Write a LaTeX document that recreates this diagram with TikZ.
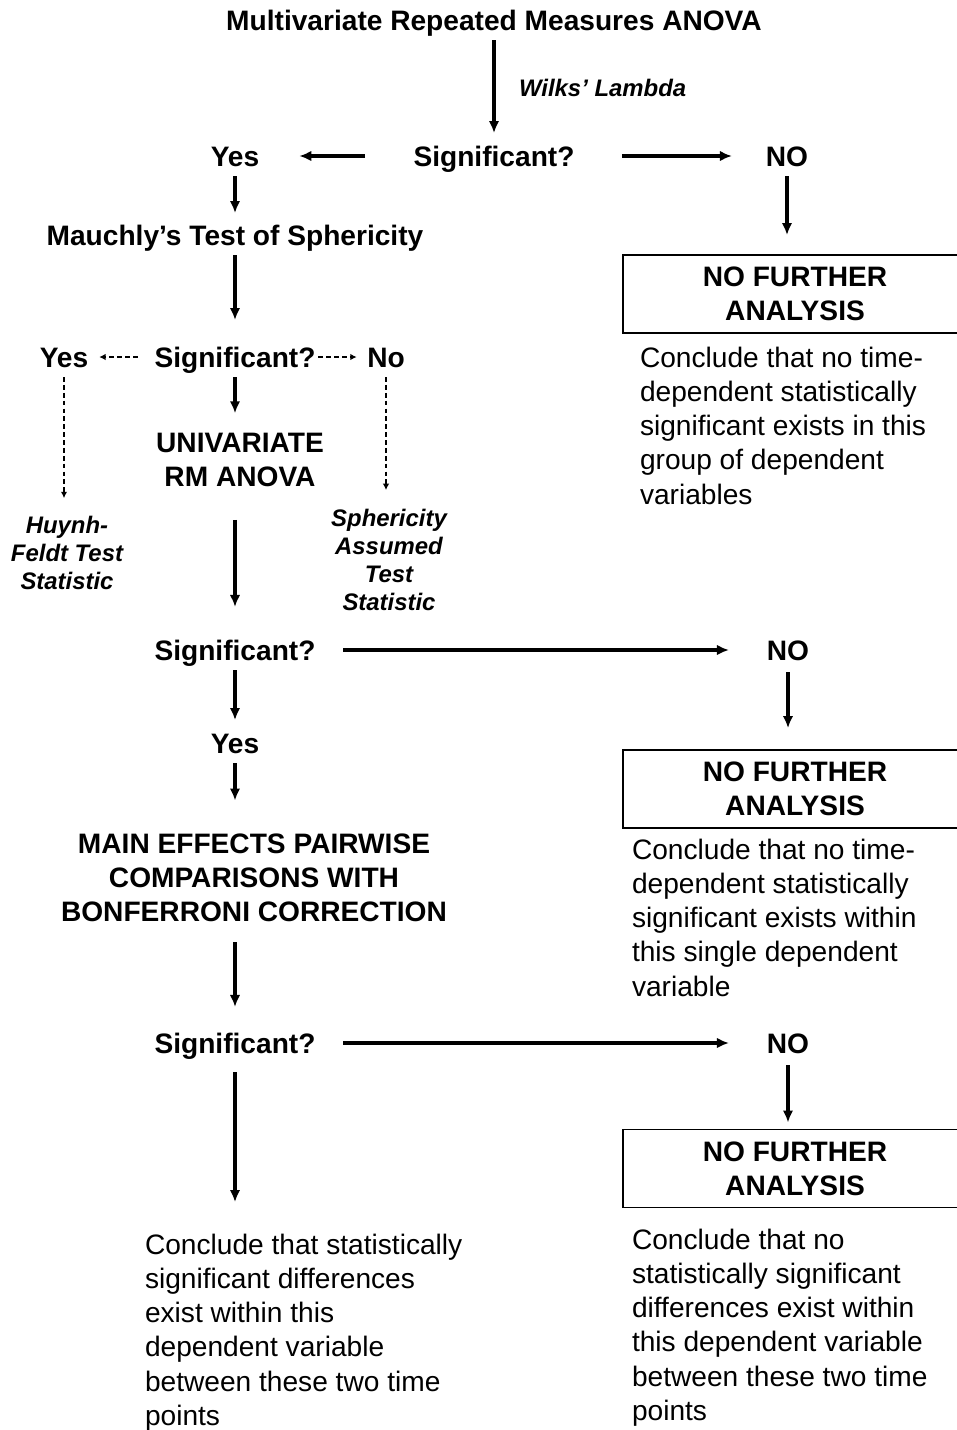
\documentclass[tikz,border=0pt]{standalone}
\usepackage{fontspec}
\setmainfont{Liberation Sans}
\usepackage{tikz}
\usetikzlibrary{arrows.meta}

\begin{document}
\begin{tikzpicture}[x=0.025cm,y=-0.025cm,
  every node/.style={inner sep=0pt,outer sep=0pt},
  txt/.style={font=\fontsize{20pt}{24.2pt}\selectfont\bfseries,text height=14.3pt,text depth=0pt},
  block/.style={font=\fontsize{20pt}{24.2pt}\selectfont\bfseries,align=center},
  stat/.style={font=\fontsize{17pt}{20pt}\selectfont\bfseries\itshape,align=center},
  stop/.style={block,draw,line width=0.8pt,minimum width=244.7pt,minimum height=55.5pt},
  note/.style={font=\fontsize{20pt}{24.2pt}\selectfont,align=left,anchor=north west},
  arr/.style={-{Latex[length=8.5pt,width=7.5pt]},line width=2.6pt},
  dsh/.style={-{Latex[length=4.5pt,width=4.6pt]},line width=1pt,dash pattern=on 3.4pt off 2.2pt}]

  \useasboundingbox (0,0) rectangle (956,1430);

  \node[txt] (title) at (494,20) {Multivariate Repeated Measures ANOVA};
  \node[txt] (sig1) at (494,156) {Significant?};
  \node[txt] (yes1) at (235,156) {Yes};
  \node[txt] (no1) at (787,156) {NO};
  \node[txt] (mauchly) at (235,235) {Mauchly's Test of Sphericity};
  \node[stop] (stop1) at (795,294) {NO FURTHER\\ANALYSIS};
  \node[note] (concl1) at (640,347.5) {Conclude that no time-\\dependent statistically\\significant exists in this\\group of dependent\\variables};

  \node[txt] (yes2) at (64,357) {Yes};
  \node[txt] (sig2) at (235,357) {Significant?};
  \node[txt] (no2) at (386,357) {No};
  \node[block] (univ) at (240,460) {UNIVARIATE\\RM ANOVA};
  \node[stat] (huynh) at (67,553) {Huynh-\\Feldt Test\\Statistic};
  \node[stat] (assumed) at (389,560) {Sphericity\\Assumed\\Test\\Statistic};

  \node[txt] (sig3) at (235,650) {Significant?};
  \node[txt] (no3) at (788,650) {NO};
  \node[txt] (yes3) at (235,743) {Yes};
  \node[stop] (stop2) at (795,789) {NO FURTHER\\ANALYSIS};
  \node[note] (concl2) at (632,839.5) {Conclude that no time-\\dependent statistically\\significant exists within\\this single dependent\\variable};
  \node[block] (main) at (254,877.5) {MAIN EFFECTS PAIRWISE\\COMPARISONS WITH\\BONFERRONI CORRECTION};

  \node[txt] (sig4) at (235,1043) {Significant?};
  \node[txt] (no4) at (788,1043) {NO};
  \node[stop] (stop3) at (795,1168.5) {NO FURTHER\\ANALYSIS};
  \node[note] (concl3) at (145,1234.5) {Conclude that statistically\\significant differences\\exist within this\\dependent variable\\between these two time\\points};
  \node[note] (concl4) at (632,1229.5) {Conclude that no\\statistically significant\\differences exist within\\this dependent variable\\between these two time\\points};

  % solid arrows
  \draw[arr,shorten <=7.1pt,shorten >=9.2pt] (title) -- node[stat,right=17.8pt] {Wilks' Lambda} (sig1);
  \draw[arr,shorten <=34.5pt,shorten >=28.5pt] (sig1) -- (yes1);
  \draw[arr,shorten <=33.8pt,shorten >=24.2pt] (sig1) -- (no1);
  \draw[arr,shorten <=7.1pt,shorten >=8.5pt] (yes1) -- (mauchly);
  \draw[arr,shorten <=7.1pt,shorten >=19.2pt] (mauchly) -- (sig2);
  \draw[arr,shorten <=7.1pt,shorten >=14.2pt] (no1) -- (no1 |- stop1.north);
  \draw[arr,shorten <=7.1pt,shorten >=14.2pt] (sig2) -- (sig2 |- univ.north);
  \draw[arr,shorten <=23.5pt,shorten >=23.5pt] (univ.south -| sig3) -- (sig3);
  \draw[arr,shorten <=19.9pt,shorten >=27pt] (sig3) -- (no3);
  \draw[arr,shorten <=7.1pt,shorten >=9.2pt] (sig3) -- (yes3);
  \draw[arr,shorten <=8.5pt,shorten >=15.6pt] (no3) -- (no3 |- stop2.north);
  \draw[arr,shorten <=7.1pt,shorten >=23.5pt] (yes3) -- (yes3 |- main.north);
  \draw[arr,shorten <=14.9pt,shorten >=18.5pt] (main.south -| sig4) -- (sig4);
  \draw[arr,shorten <=19.9pt,shorten >=27pt] (sig4) -- (no4);
  \draw[arr,shorten <=13.5pt,shorten >=23.1pt] (sig4) -- (sig4 |- concl3.north);
  \draw[arr,shorten <=8.5pt,shorten >=5pt] (no4) -- (no4 |- stop3.north);

  % dashed arrows
  \draw[dsh,shorten <=12.1pt,shorten >=7.8pt] (sig2) -- (yes2);
  \draw[dsh,shorten <=2.1pt,shorten >=7.5pt] (sig2) -- (no2);
  \draw[dsh,shorten <=7.1pt,shorten >=12.8pt] (yes2) -- (yes2 |- huynh.north);
  \draw[dsh,shorten <=7.1pt,shorten >=13.5pt] (no2) -- (no2 |- assumed.north);
\end{tikzpicture}
\end{document}
